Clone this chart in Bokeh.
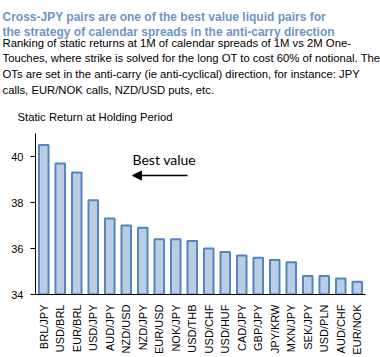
from bokeh.plotting import figure
from bokeh.models import Arrow, NormalHead, FixedTicker, FactorRange, Range1d, Label, Title
from bokeh.embed import file_html
from bokeh.resources import INLINE
from math import pi

pairs = ["BRL/JPY", "USD/BRL", "EUR/BRL", "USD/JPY", "AUD/JPY", "NZD/USD", "NZD/JPY",
         "EUR/USD", "NOK/JPY", "USD/THB", "USD/CHF", "USD/HUF", "CAD/JPY", "GBP/JPY",
         "JPY/KRW", "MXN/JPY", "SEK/JPY", "USD/PLN", "AUD/CHF", "EUR/NOK"]
returns = [40.5, 39.7, 39.3, 38.1, 37.3, 37.0, 36.9, 36.4, 36.4, 36.33,
           36.0, 35.85, 35.7, 35.6, 35.5, 35.4, 34.8, 34.8, 34.7, 34.55]
y_ticks = [34, 36, 38, 40]

title_lines = ["Cross-JPY pairs are one of the best value liquid pairs for",
               "the strategy of calendar spreads in the anti-carry direction"]
sub_lines = ["Ranking of static returns at 1M of calendar spreads of 1M vs 2M One-",
             "Touches, where strike is solved for the long OT to cost 60% of notional. The",
             "OTs are set in the anti-carry (ie anti-cyclical) direction, for instance: JPY",
             "calls, EUR/NOK calls, NZD/USD puts, etc."]
chart_title = "Static Return at Holding Period"
note = "Best value"

W, H = 380, 357
LEFT, TOP, BOTTOM, RIGHT = 35, 133, 59, 15
FB = H - BOTTOM  # canvas y of frame bottom

p = figure(width=W, height=H, x_range=FactorRange(*pairs, range_padding=0),
           y_range=Range1d(34, 41), output_backend="svg", toolbar_location=None,
           min_border_left=LEFT, min_border_right=RIGHT, min_border_top=TOP,
           min_border_bottom=BOTTOM)
p.outline_line_color = None
p.xgrid.grid_line_color = None
p.ygrid.grid_line_color = None

p.vbar(x=pairs, top=returns, bottom=34, width=0.58, fill_color="#b9cde5",
       line_color="#5584bf", line_width=2)

p.yaxis.ticker = FixedTicker(ticks=y_ticks)
p.yaxis.minor_tick_line_color = None
p.yaxis.major_tick_in = 0
p.yaxis.major_tick_out = 5
p.yaxis.major_label_standoff = 7
p.yaxis.major_label_text_font = "Liberation Sans"
p.yaxis.major_label_text_font_size = "11px"
p.yaxis.major_label_text_color = "black"
p.yaxis.axis_line_color = "black"
p.yaxis.major_tick_line_color = "black"

p.xaxis.major_label_orientation = pi / 2
p.xaxis.major_tick_line_color = None
p.xaxis.major_label_standoff = 4
p.xaxis.major_label_text_font = "Liberation Sans"
p.xaxis.major_label_text_font_size = "11px"
p.xaxis.major_label_text_color = "black"
p.xaxis.axis_line_color = "black"


def add_title(txt, size, standoff, x0=2, style="normal", color="black"):
    p.add_layout(Title(text=txt, text_font="Liberation Sans", text_font_size=size,
                       text_font_style=style, text_color=color, standoff=standoff,
                       offset=x0 - LEFT, align="left"), "above")


# stacked from the frame upward
add_title(chart_title, "11.3px", 20.1, x0=17)
add_title(sub_lines[3], "11.3px", 6.95)
add_title(sub_lines[2], "11.3px", -3.25)
add_title(sub_lines[1], "11.3px", 6.15)
add_title(sub_lines[0], "11.3px", -3.25)
add_title(title_lines[1], "12px", -4.1, style="bold", color="#6f95c8")
add_title(title_lines[0], "12px", 1.9, style="bold", color="#6f95c8")

p.add_layout(Label(x=132 - LEFT, y=FB - 163, x_units="screen", y_units="screen", text=note,
                   text_font="Lato", text_font_size="14px", text_color="black",
                   text_baseline="alphabetic"))
p.add_layout(Arrow(x_start=187 - LEFT, y_start=FB - 179, x_end=132 - LEFT, y_end=FB - 179,
                   start_units="screen", end_units="screen", line_color="black",
                   line_width=1.5,
                   end=NormalHead(size=9, fill_color="black", line_color="black")))

open("out.html", "w").write(file_html(p, INLINE))
